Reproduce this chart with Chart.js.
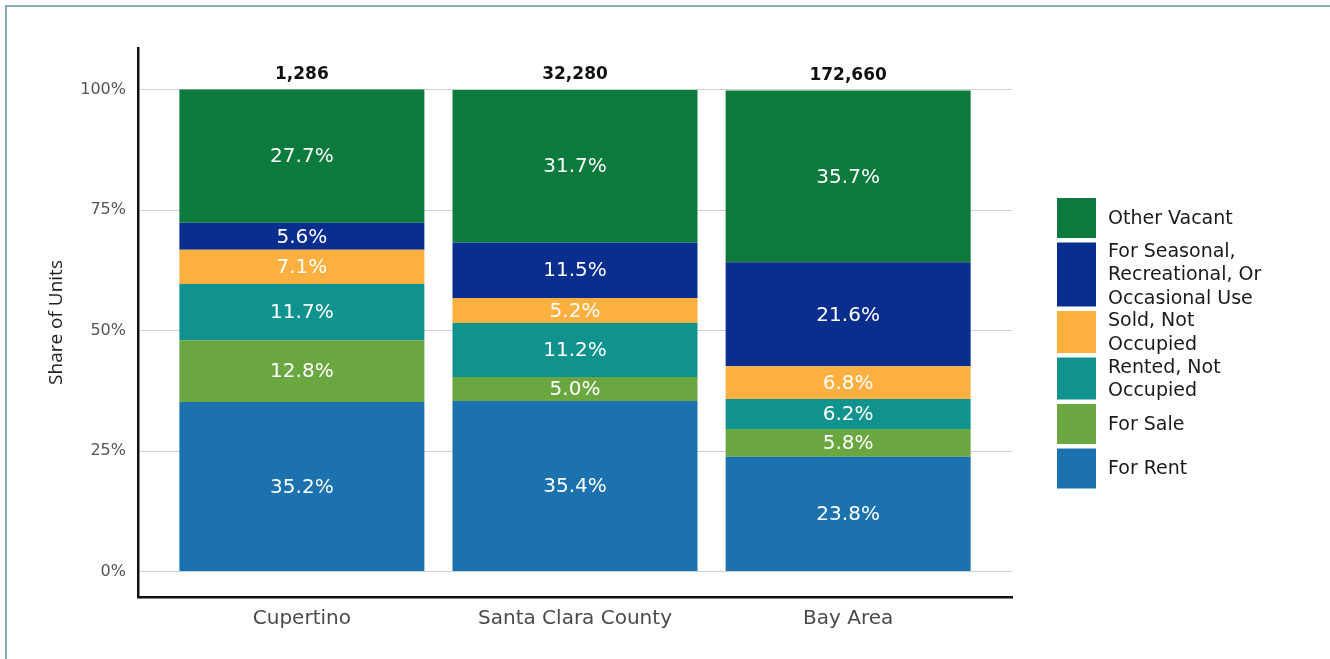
<!DOCTYPE html>
<html>
<head>
<meta charset="utf-8">
<script src="https://cdn.jsdelivr.net/npm/chart.js@4.4.1/dist/chart.umd.min.js"></script>
<style>
  body { margin: 0; background: #fff; overflow: hidden; }
  #frame { position: absolute; left: 5px; top: 5px; width: 1400px; height: 700px; border: 2px solid #82abbb; }
  #wrap { position: absolute; left: 0; top: 0; width: 1330px; height: 659px; }
</style>
</head>
<body>
<div id="frame"></div>
<div id="wrap"><canvas id="chart" width="1330" height="659"></canvas></div>
<script>
// categories and totals
var places = ['Cupertino', 'Santa Clara County', 'Bay Area'];
var totals = ['1,286', '32,280', '172,660'];
var yTicks = [0, 25, 50, 75, 100];

// shares (%) bottom to top
var forRent     = [35.2, 35.4, 23.8];
var forSale     = [12.8, 5.0, 5.8];
var rentedNotOcc = [11.7, 11.2, 6.2];
var soldNotOcc  = [7.1, 5.2, 6.8];
var seasonal    = [5.6, 11.5, 21.6];
var otherVacant = [27.7, 31.7, 35.7];

var FONT = "'DejaVu Sans', sans-serif";

function makeSet(label, vals, color) {
	return {
		label: label,
		data: vals.map(function(v, i) { return { x: i, y: v }; }),
		backgroundColor: color,
		borderWidth: 0
	};
}

var datasets = [
	makeSet('For Rent', forRent, '#1b72ae'),
	makeSet('For Sale', forSale, '#6aa741'),
	makeSet('Rented, Not Occupied', rentedNotOcc, '#10938f'),
	makeSet('Sold, Not Occupied', soldNotOcc, '#fbb040'),
	makeSet('For Seasonal, Recreational, Or Occasional Use', seasonal, '#0a2e8e'),
	makeSet('Other Vacant', otherVacant, '#0b7a3c')
];

// white % text inside each segment, totals above bars
var labelPlugin = {
	id: 'labels',
	afterDatasetsDraw: function(chart) {
		var ctx = chart.ctx;
		ctx.save();
		ctx.textAlign = 'center';
		ctx.textBaseline = 'middle';
		ctx.font = '20px ' + FONT;
		ctx.fillStyle = '#ffffff';
		chart.data.datasets.forEach(function(ds, di) {
			var meta = chart.getDatasetMeta(di);
			meta.data.forEach(function(bar, i) {
				var mid = (bar.y + bar.base) / 2;
				ctx.fillText(ds.data[i].y.toFixed(1) + '%', bar.x, mid + 1);
			});
		});
		var top = chart.getDatasetMeta(chart.data.datasets.length - 1);
		ctx.font = 'bold 17px ' + FONT;
		ctx.fillStyle = '#111';
		top.data.forEach(function(bar, i) {
			ctx.fillText(totals[i], bar.x, bar.y - 15);
		});
		ctx.restore();
	}
};

// legend on the right with wrapped labels, top item = top segment
function wrap(ctx, text, maxW) {
	var words = text.split(' '), lines = [], cur = '';
	for (var i = 0; i < words.length; i++) {
		var t = cur ? cur + ' ' + words[i] : words[i];
		if (ctx.measureText(t).width > maxW && cur) { lines.push(cur); cur = words[i]; }
		else cur = t;
	}
	lines.push(cur);
	return lines;
}

var legendPlugin = {
	id: 'sideLegend',
	afterDraw: function(chart) {
		var ctx = chart.ctx;
		var x = chart.chartArea.right + 45;
		var y = 198;
		ctx.save();
		ctx.font = '19px ' + FONT;
		ctx.textAlign = 'left';
		ctx.textBaseline = 'middle';
		var sets = chart.data.datasets.slice().reverse();
		sets.forEach(function(ds) {
			var lines = wrap(ctx, ds.label, 170);
			var h = lines.length == 1 ? 40 : lines.length * 22 - 2;
			ctx.fillStyle = ds.backgroundColor;
			ctx.fillRect(x, y, 39, h);
			ctx.fillStyle = '#1a1a1a';
			var lh = 23.5;
			var ty = y + h / 2 - (lines.length - 1) * lh / 2;
			lines.forEach(function(l, k) { ctx.fillText(l, x + 51, ty + k * lh + 1); });
			y += h + 4.5;
		});
		ctx.restore();
	}
};

var c = new Chart(document.getElementById('chart'), {
	type: 'bar',
	data: { datasets: datasets },
	options: {
		responsive: false,
		animation: false,
		barPercentage: 0.897,
		categoryPercentage: 1,
		layout: { padding: { left: 0, top: 48, right: 318, bottom: 0 } },
		plugins: { legend: { display: false }, tooltip: { enabled: false } },
		scales: {
			x: {
				type: 'linear',
				stacked: true,
				offset: false,
				min: -0.6,
				max: 2.6,
				afterBuildTicks: function(s) { s.ticks = [0, 1, 2].map(function(v) { return { value: v }; }); },
				afterFit: function(s) { s.height = 62; },
				grid: { display: false, drawTicks: false },
				border: { display: true, color: '#111', width: 2.5 },
				ticks: {
					padding: 10,
					color: '#4a4a4a',
					font: { family: FONT, size: 20 },
					callback: function(v) { return places[v]; }
				}
			},
			y: {
				stacked: true,
				min: -5.3,
				max: 108.7,
				afterBuildTicks: function(s) { s.ticks = yTicks.map(function(v) { return { value: v }; }); },
				afterFit: function(s) { s.width = 138; },
				grid: { color: '#cfcfcf', lineWidth: 1, drawTicks: false },
				border: { display: true, color: '#111', width: 2.5 },
				ticks: {
					padding: 12,
					color: '#555',
					font: { family: FONT, size: 16 },
					callback: function(v) { return v + '%'; }
				},
				title: {
					display: true,
					text: 'Share of Units',
					color: '#222',
					font: { family: "'Open Sans', sans-serif", size: 19 },
					padding: { top: 45, bottom: 0 }
				}
			}
		}
	},
	plugins: [labelPlugin, legendPlugin]
});
</script>
</body>
</html>
